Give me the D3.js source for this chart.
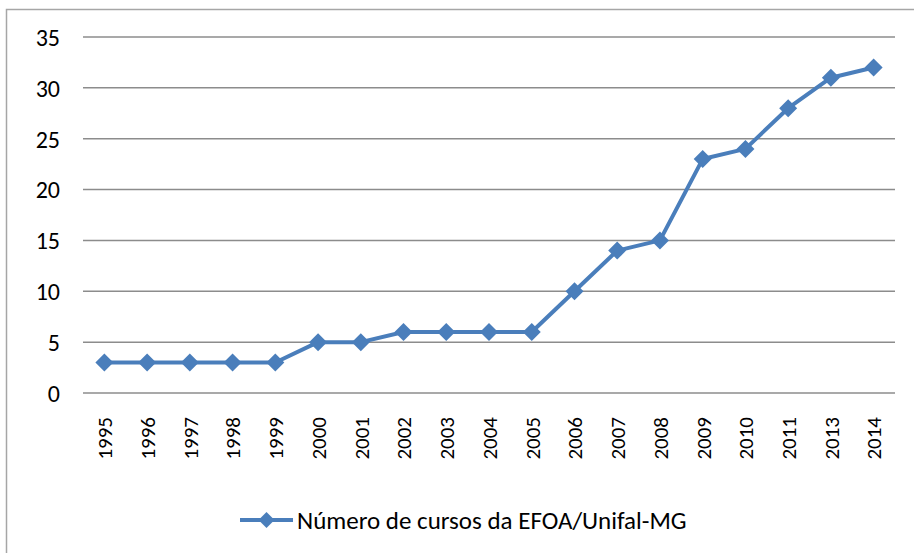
<!DOCTYPE html>
<html>
<head>
<meta charset="utf-8">
<script src="https://cdn.jsdelivr.net/npm/d3@7"></script>
<style>
  body { margin: 0; background: #fff; }
  text { font-family: Carlito, Calibri, "Liberation Sans", sans-serif; fill: #000; }
</style>
</head>
<body>
<div id="chart"></div>
<script>
var years = ["1995","1996","1997","1998","1999","2000","2001","2002","2003","2004",
             "2005","2006","2007","2008","2009","2010","2011","2013","2014"];
var cursos = [3,3,3,3,3,5,5,6,6,6,6,10,14,15,23,24,28,31,32];
var yTicks = [0,5,10,15,20,25,30,35];
var seriesName = "Número de cursos da EFOA/Unifal-MG";

var W = 914, H = 553;
var blue = "#4a7ebb";

var svg = d3.select("#chart").append("svg")
  .attr("width", W)
  .attr("height", H);

//outer frame of the chart area
svg.append("rect")
  .attr("x", 6.5).attr("y", 9.5)
  .attr("width", W).attr("height", H)
  .attr("fill", "none")
  .attr("stroke", "#a6a6a6")
  .attr("stroke-width", 1.5);

var x = d3.scalePoint().domain(years).range([83, 895]).padding(0.5);
var y = d3.scaleLinear().domain([0, 35]).range([393, 37]);

//horizontal grid lines
svg.append("g").selectAll("line")
  .data(yTicks)
  .enter().append("line")
    .attr("x1", 83)
    .attr("x2", 895)
    .attr("y1", function(d) { return y(d); })
    .attr("y2", function(d) { return y(d); })
    .attr("stroke", "#8c8c8c")
    .attr("stroke-width", 1.5);

//y axis labels
var yAxis = svg.append("g")
  .attr("transform", "translate(60,0)")
  .call(d3.axisLeft(y).tickValues(yTicks).tickSize(0).tickPadding(0));
yAxis.attr("font-family", null).attr("font-size", null);
yAxis.select(".domain").remove();
yAxis.selectAll("text")
  .style("font-size", "24px")
  .attr("dy", "0.35em");

//x axis labels, rotated
var xAxis = svg.append("g")
  .attr("transform", "translate(0,417)")
  .call(d3.axisBottom(x).tickSize(0).tickPadding(0));
xAxis.attr("font-family", null).attr("font-size", null);
xAxis.select(".domain").remove();
xAxis.selectAll("text")
  .style("font-size", "21px")
  .attr("text-anchor", "end")
  .attr("transform", "rotate(-90)")
  .attr("x", 0)
  .attr("y", 0)
  .attr("dy", "0.35em");

//the line
var line = d3.line()
  .x(function(d, i) { return x(years[i]); })
  .y(function(d) { return y(d); });

svg.append("path")
  .datum(cursos)
  .attr("d", line)
  .attr("fill", "none")
  .attr("stroke", blue)
  .attr("stroke-width", 4)
  .attr("stroke-linejoin", "round");

var diamond = "M0,-9L9,0L0,9L-9,0Z";

svg.append("g").selectAll("path")
  .data(cursos)
  .enter().append("path")
    .attr("d", diamond)
    .attr("transform", function(d, i) { return "translate(" + x(years[i]) + "," + y(d) + ")"; })
    .attr("fill", blue);

//legend
var lg = svg.append("g").attr("transform", "translate(240,520)");
lg.append("line")
  .attr("x1", 0).attr("x2", 53)
  .attr("stroke", blue).attr("stroke-width", 4);
lg.append("path")
  .attr("d", "M0,-8L8,0L0,8L-8,0Z")
  .attr("transform", "translate(26.5,0)")
  .attr("fill", blue);
lg.append("text")
  .attr("x", 57)
  .attr("dy", "0.35em")
  .style("font-size", "25px")
  .text(seriesName);
</script>
</body>
</html>
